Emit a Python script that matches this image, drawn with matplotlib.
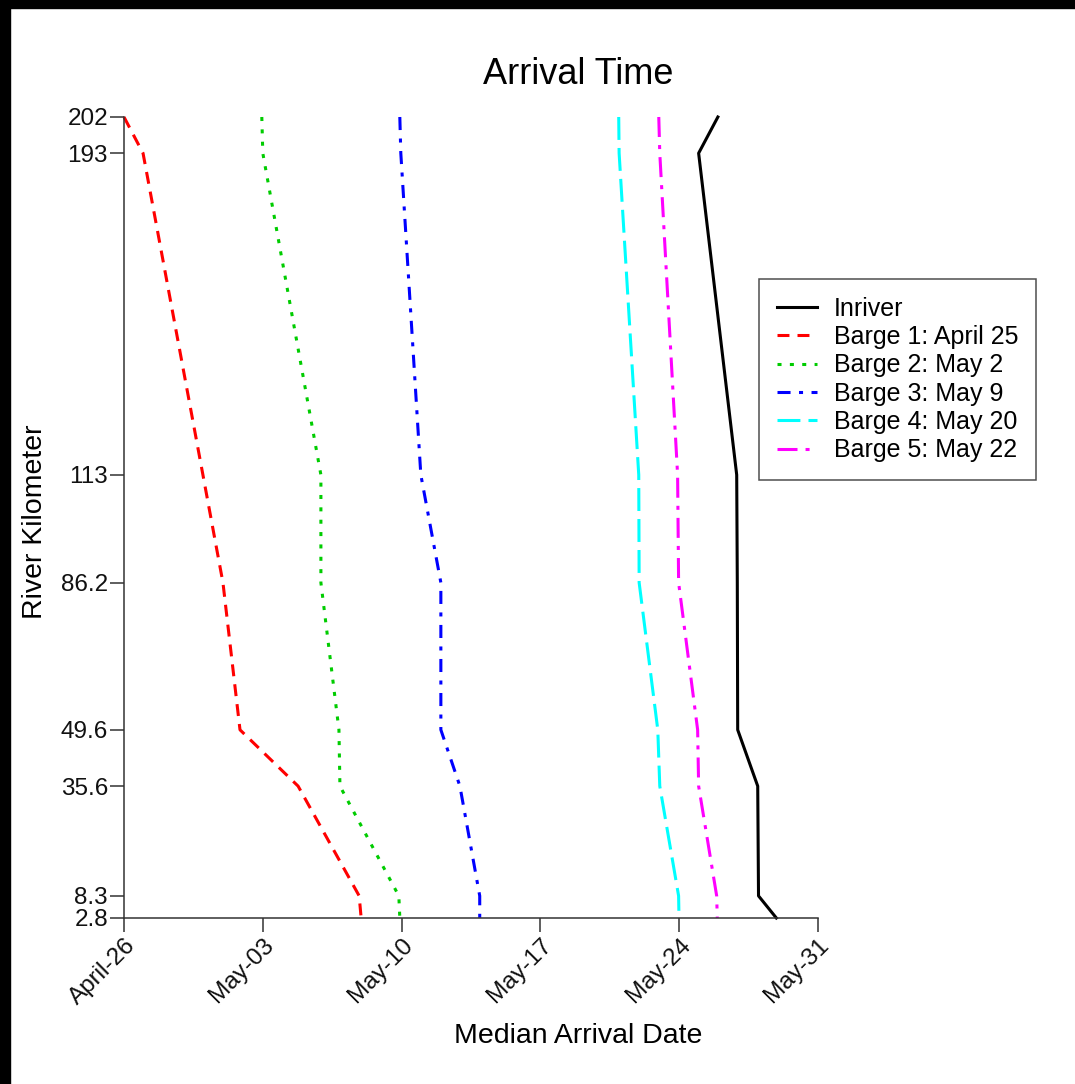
import matplotlib
matplotlib.use('Agg')
import matplotlib.pyplot as plt
from matplotlib.patches import Rectangle

plt.rcParams['font.family'] = ['Liberation Sans', 'DejaVu Sans']
plt.rcParams['lines.scale_dashes'] = False

# River kilometre stations (y) and median arrival day offsets from April 26 (x)
river_km = [202, 193, 113, 86.2, 49.6, 35.6, 8.3, 2.8]
km_labels = ['202', '193', '113', '86.2', '49.6', '35.6', '8.3', '2.8']
date_ticks = [0, 7, 14, 21, 28, 35]
date_labels = ['April-26', 'May-03', 'May-10', 'May-17', 'May-24', 'May-31']

inriver = [29.95, 28.98, 30.90, 30.93, 30.95, 31.96, 32.00, 32.90]
barge1 = [0.00, 0.96, 3.98, 4.99, 5.85, 8.78, 11.86, 11.96]
barge2 = [6.95, 7.00, 9.93, 9.93, 10.84, 10.89, 13.86, 13.91]
barge3 = [13.91, 13.96, 14.97, 15.98, 15.98, 16.94, 17.94, 17.94]
barge4 = [24.95, 24.97, 25.96, 25.98, 26.92, 27.02, 27.97, 27.99]
barge5 = [26.97, 27.02, 27.92, 27.97, 28.93, 28.98, 29.89, 29.92]

series_names = ['Inriver', 'Barge 1: April 25', 'Barge 2: May 2',
                'Barge 3: May 9', 'Barge 4: May 20', 'Barge 5: May 22']

W, H = 1075, 1084
fig = plt.figure(figsize=(W / 100, H / 100), dpi=100)
ax = fig.add_axes([124 / W, 1 - 918 / H, (818 - 124) / W, (918 - 117) / H])

lw = 2.2
styles = [
    dict(color='black', linestyle='-', lw=lw),
    dict(color='#FF0000', linestyle=(0, (8.6, 5.8)), lw=lw),
    dict(color='#00CC00', linestyle=(0, (2.9, 6.0)), lw=lw),
    dict(color='#0000FF', linestyle=(0, (9.4, 6.1, 2.9, 6.1)), lw=lw),
    dict(color='#00FFFF', linestyle=(0, (16.5, 5.8)), lw=lw),
    dict(color='#FF00FF', linestyle=(0, (14.4, 5.8, 2.9, 5.8)), lw=lw),
]
data = [inriver, barge1, barge2, barge3, barge4, barge5]
for vals, name, st in zip(data, series_names, styles):
    ax.plot(vals, river_km, label=name, clip_on=False, **st)

ax.set_xlim(0, 35)
ax.set_ylim(2.8, 202)
for s in ['top', 'right']:
    ax.spines[s].set_visible(False)
for s in ['left', 'bottom']:
    ax.spines[s].set_color('#333333')
    ax.spines[s].set_linewidth(1.1)

ax.set_yticks(river_km)
ax.set_yticklabels(km_labels)
ax.set_xticks(date_ticks)
ax.set_xticklabels(date_labels, rotation=45, ha='right', va='top',
                   rotation_mode='anchor')
ax.tick_params(axis='both', direction='out', length=10, width=1.1,
               color='#333333', labelsize=17.5, labelcolor='#111111')
ax.tick_params(axis='y', pad=1.5)
ax.tick_params(axis='x', pad=2)

cx = 578 / W
fig.text(cx, 1 - 74 / H, 'Arrival Time', ha='center', va='center', fontsize=26)
fig.text(cx, 1 - 1036 / H, 'Median Arrival Date', ha='center', va='center',
         fontsize=20.5)
fig.text(35 / W, 1 - 522 / H, 'River Kilometer', ha='center', va='center',
         rotation=90, fontsize=20.5)

leg = ax.legend(loc='upper left', bbox_to_anchor=(759 / W, 1 - 279 / H),
                bbox_transform=fig.transFigure, borderaxespad=0,
                fontsize=18, frameon=True, fancybox=False, shadow=False,
                handlelength=1.6, handletextpad=0.7, labelspacing=0.175,
                borderpad=0.7)
leg.get_frame().set_edgecolor('#222222')
leg.get_frame().set_linewidth(1.1)

# black border at top and left of the image
fig.patches.append(Rectangle((0, 1 - 8 / H), 1, 8 / H, transform=fig.transFigure,
                             color='black', zorder=10))
fig.patches.append(Rectangle((0, 0), 10 / W, 1, transform=fig.transFigure,
                             color='black', zorder=10))

fig.savefig('out.png', dpi=100, facecolor='white')
